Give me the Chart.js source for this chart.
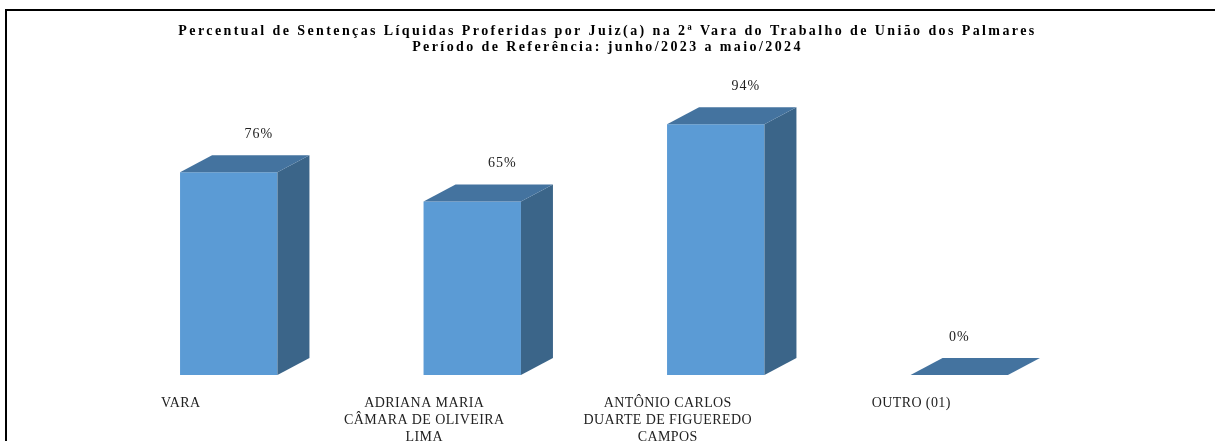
<!DOCTYPE html>
<html>
<head>
<meta charset="utf-8">
<script src="https://cdn.jsdelivr.net/npm/chart.js@4.4.1/dist/chart.umd.min.js"></script>
<style>
  html, body { margin: 0; padding: 0; background: #ffffff; }
  #wrap { width: 1215px; height: 441px; position: relative; }
</style>
</head>
<body>
<div id="wrap"><canvas id="c" width="1215" height="441"></canvas></div>
<script>
const categories = [
  'VARA',
  ['ADRIANA MARIA', 'CÂMARA DE OLIVEIRA', 'LIMA'],
  ['ANTÔNIO CARLOS', 'DUARTE DE FIGUEREDO', 'CAMPOS'],
  'OUTRO (01)'
];
const percentValues = [76, 65, 94, 0];
const valueLabels = ['76%', '65%', '94%', '0%'];
const titleLines = [
  'Percentual de Sentenças Líquidas Proferidas por Juiz(a) na 2ª Vara do Trabalho de União dos Palmares',
  'Período de Referência: junho/2023 a maio/2024'
];

const FRONT = '#5B9BD5';
const SIDE = '#3B6589';
const TOP = '#44739F';
const DEPTH_X = 32;
const DEPTH_Y = 17;

const threeD = {
  id: 'threeD',
  beforeDraw(chart) {
    const ctx = chart.ctx;
    ctx.save();
    ctx.fillStyle = '#ffffff';
    ctx.fillRect(0, 0, chart.width, chart.height);
    ctx.fillStyle = '#000000';
    ctx.fillRect(5, 9, chart.width - 5, 2);
    ctx.fillRect(5, 9, 2, chart.height - 9);
    ctx.restore();
    ctx.letterSpacing = '0.4px';
    const tb = chart.titleBlock;
    if (tb && !tb._spaced) {
      const orig = tb.draw;
      tb.draw = function () {
        const c = this.ctx;
        const prev = c.letterSpacing;
        c.letterSpacing = '2.4px';
        orig.apply(this, arguments);
        c.letterSpacing = prev;
      };
      tb._spaced = true;
    }
  },
  afterDatasetsDraw(chart) {
    const ctx = chart.ctx;
    const meta = chart.getDatasetMeta(0);
    ctx.save();
    meta.data.forEach((bar, i) => {
      const p = bar.getProps(['x', 'y', 'base', 'width'], true);
      const l = p.x - p.width / 2, r = p.x + p.width / 2;
      const t = Math.min(p.y, p.base), b = Math.max(p.y, p.base);
      if (b - t > 0.5) {
        ctx.fillStyle = SIDE;
        ctx.beginPath();
        ctx.moveTo(r, t);
        ctx.lineTo(r + DEPTH_X, t - DEPTH_Y);
        ctx.lineTo(r + DEPTH_X, b - DEPTH_Y);
        ctx.lineTo(r, b);
        ctx.closePath();
        ctx.fill();
      }
      ctx.fillStyle = TOP;
      ctx.beginPath();
      ctx.moveTo(l, t);
      ctx.lineTo(l + DEPTH_X, t - DEPTH_Y);
      ctx.lineTo(r + DEPTH_X, t - DEPTH_Y);
      ctx.lineTo(r, t);
      ctx.closePath();
      ctx.fill();
      ctx.fillStyle = '#222222';
      ctx.font = '14px "Liberation Serif", "Times New Roman", serif';
      ctx.letterSpacing = '1px';
      ctx.textAlign = 'center';
      ctx.textBaseline = 'middle';
      const off = percentValues[i] > 0 ? DEPTH_X - 2 : 0;
      ctx.fillText(valueLabels[i], p.x + off, t - DEPTH_Y - 21);
    });
    ctx.restore();
  }
};

new Chart(document.getElementById('c'), {
  type: 'bar',
  data: {
    labels: categories,
    datasets: [{
      data: percentValues,
      backgroundColor: FRONT,
      borderWidth: 0,
      barPercentage: 0.4,
      categoryPercentage: 1.0
    }]
  },
  options: {
    responsive: false,
    animation: false,
    events: [],
    layout: { padding: 0 },
    plugins: {
      legend: { display: false },
      tooltip: { enabled: false },
      title: {
        display: true,
        text: titleLines,
        color: '#000000',
        font: { family: '"Liberation Serif", "Times New Roman", serif', size: 14, weight: 'bold', lineHeight: 1.15 },
        padding: { top: 23, bottom: 53 }
      }
    },
    scales: {
      y: {
        display: true,
        position: 'left',
        min: 0,
        max: 100,
        grid: { display: false, drawTicks: false },
        border: { display: false },
        ticks: { display: false },
        afterFit(scale) { scale.width = 107; }
      },
      yRight: {
        display: true,
        position: 'right',
        grid: { display: false, drawTicks: false },
        border: { display: false },
        ticks: { display: false },
        afterFit(scale) { scale.width = 134; }
      },
      x: {
        grid: { display: false, drawTicks: false },
        border: { display: false },
        ticks: {
          color: '#222222',
          font: { family: '"Liberation Serif", "Times New Roman", serif', size: 14, lineHeight: 1.2 },
          padding: 20,
          labelOffset: -48,
          maxRotation: 0,
          autoSkip: false
        },
        afterFit(scale) { scale.height = 66; }
      }
    }
  },
  plugins: [threeD]
});
</script>
</body>
</html>
